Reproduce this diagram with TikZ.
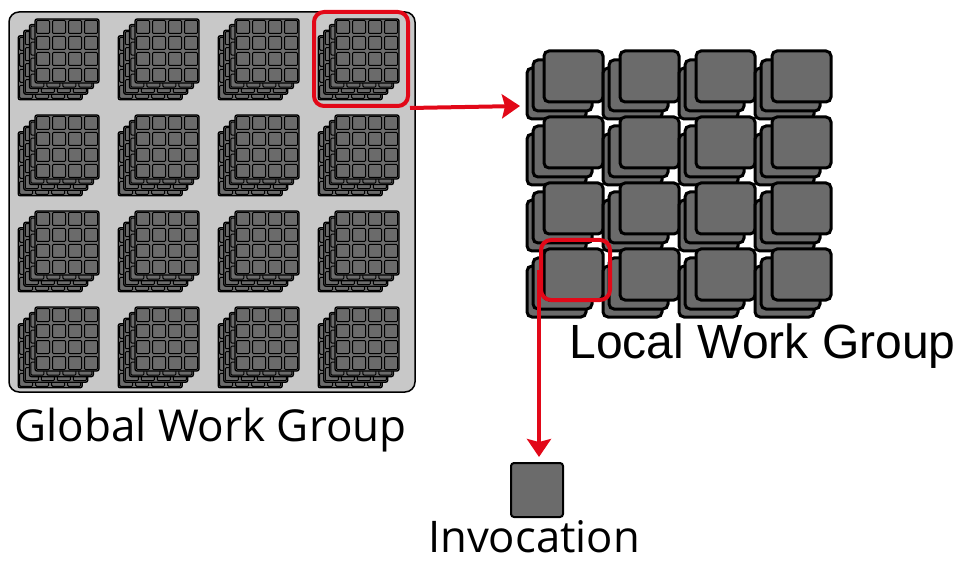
\documentclass[tikz,border=0pt]{standalone}
\usepackage{fontspec}
\setmainfont{Open Sans}
\newfontfamily\arialfont{Liberation Sans}
\usetikzlibrary{arrows.meta}

\definecolor{boxgrey}{RGB}{107,107,107}
\definecolor{panelgrey}{RGB}{200,200,200}
\definecolor{markred}{RGB}{226,8,24}

% one 4x4 layer of a global block, top left corner at (#1,#2)
\newcommand*{\gridlayer}[2]{%
	\draw[layer] ({#1},{#2}) rectangle ++(64,64);
	\foreach \cx in {0,...,3}
		\foreach \cy in {0,...,3}
			\draw[cell] ({#1+1.5+16*\cx},{#2+1.5+16*\cy}) rectangle ++(13,13);
}

\begin{document}
\begin{tikzpicture}
[
	x=0.5pt,
	y=-0.5pt,
	panel/.style={draw=black,line width=0.75pt,fill=panelgrey,rounded corners=5pt,inner sep=0pt},
	layer/.style={draw=black,line width=0.65pt,fill=boxgrey,rounded corners=1pt},
	cell/.style={draw=black,line width=0.5pt,fill=boxgrey,rounded corners=0.5pt},
	lsquare/.style={draw=black,line width=1.5pt,fill=boxgrey,rounded corners=2.5pt},
	highlight/.style={draw=markred,line width=2pt,rounded corners=5pt,inner sep=0pt},
	redarrow/.style={draw=markred,line width=2pt,-{Stealth[length=9pt,width=12pt,inset=1.5pt]}},
	label/.style={anchor=base,inner sep=0pt}
]
	\useasboundingbox (0,0) rectangle (963,561);

	% global work group
	\node[panel,minimum width=203pt,minimum height=190pt] (gwg) at (212,202) {};
	\foreach \col in {0,...,3}
		\foreach \row in {0,...,3}
			\foreach \k in {3,2,1,0}
				\gridlayer{35+100*\col-5.6*\k}{19+96*\row+5.6*\k};
	\node[label,font=\fontsize{22}{26}\selectfont] (gwglabel) at (210.5,441) {Global Work Group};

	% local work group
	\foreach \row in {0,...,3}
		\foreach \col in {0,...,3} {
			\draw[lsquare] ({527+76*\col},{68+66*\row}) rectangle ++(59,51);
			\draw[lsquare] ({533+76*\col},{60+66*\row}) rectangle ++(59,51);
			\draw[lsquare] ({544+76*\col},{51+66*\row}) rectangle ++(59,51);
		}
	\node[label,font=\arialfont\fontsize{24}{28}\selectfont] (lwglabel) at (762.5,358) {Local Work Group};

	% invocation
	\node[lsquare,line width=1pt,rounded corners=1.5pt,minimum width=26pt,minimum height=27pt,inner sep=0pt] (inv) at (537,490) {};
	\node[label,font=\fontsize{21.8}{26}\selectfont] (invlabel) at (534,552) {Invocation};

	% highlights and arrows
	\node[highlight,minimum width=47pt,minimum height=47pt] (hlglobal) at (361,59) {};
	\node[highlight,minimum width=34.5pt,minimum height=30pt] (hllocal) at (575.5,270) {};
	\coordinate (lwgin) at (520,106);
	\coordinate (invtop) at (537,457);
	\draw[redarrow] (hlglobal.south east) -- (lwgin);
	\draw[redarrow] (hllocal.west) -- (hllocal.west |- invtop);

\end{tikzpicture}
\end{document}
